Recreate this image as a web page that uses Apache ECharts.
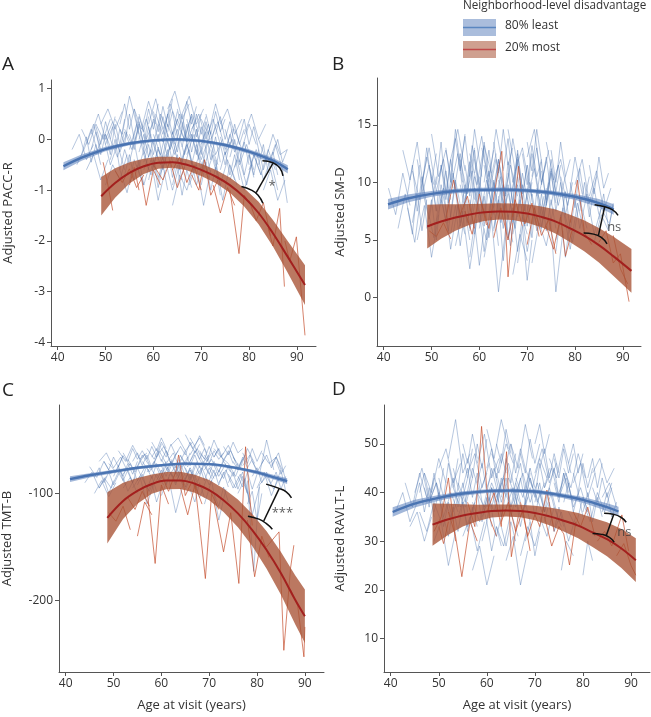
<!DOCTYPE html>
<html><head><meta charset="utf-8">
<script src="https://cdn.jsdelivr.net/npm/echarts@6/dist/echarts.min.js"></script>
<style>html,body{margin:0;padding:0;background:#fff}#c{width:651px;height:717px}</style>
</head><body><div id="c"></div>
<script>
// ---------- shared ----------
const xTicks = [40, 50, 60, 70, 80, 90];
const legendTitle = 'Neighborhood-level disadvantage';
const groupNames = ['80% least', '20% most'];
const xTitle = 'Age at visit (years)';

// ---------- Panel A : PACC-R ----------
const aTitle = 'Adjusted PACC-R';
const aYTicks = [-4, -3, -2, -1, 0, 1];
const aBlueAge = [41.2, 45, 50, 55, 60, 65, 70, 75, 80, 85, 88.1];
const aBlueFit = [-0.53, -0.36, -0.19, -0.08, -0.02, 0.0, -0.03, -0.11, -0.24, -0.42, -0.59];
const aBlueHalf = [0.08, 0.06, 0.045, 0.035, 0.03, 0.03, 0.03, 0.035, 0.045, 0.06, 0.08];
const aRedAge = [49.1, 52, 55, 58, 61, 64, 67, 70, 73, 76, 79, 82, 85, 88, 91.7];
const aRedFit = [-1.12, -0.86, -0.66, -0.53, -0.46, -0.45, -0.5, -0.6, -0.73, -0.9, -1.14, -1.45, -1.85, -2.3, -2.87];
const aRedHalf = [0.38, 0.29, 0.21, 0.15, 0.12, 0.11, 0.11, 0.12, 0.13, 0.15, 0.18, 0.22, 0.26, 0.31, 0.39];
const aBlueLines = [
[43,-0.2,44.5,0.1,46,-0.4,47.5,-0.1],[44,-0.5,45.5,-0.2,47,0.2,48.5,-0.3],[45,0.2,46.5,-0.1,48,0.3,49.5,0.0,51,0.4],
[46,-0.6,47.5,-0.3,49,-0.8,50.5,-0.4],[47,0.1,48.5,0.5,50,0.0,51.5,0.35],[48,-0.3,49.5,0.1,51,-0.5,52.5,-0.1,54,-0.6],
[49,0.3,50.5,0.6,52,0.2,53.5,0.55],[50,-0.9,51.5,-0.5,53,-0.8,54.5,-0.3],[51,0.0,52.5,-0.35,54,0.15,55.5,-0.2,57,0.25],
[52,0.4,53.5,0.1,55,0.85,56.5,0.3],[53,-0.6,54.5,-1.05,56,-0.4,57.5,-0.8],[54,0.2,55.5,-0.1,57,0.45,58.5,0.0,60,0.35],
[55,-0.2,56.5,0.3,58,-0.3,59.5,0.1],[56,0.6,57.5,0.2,59,0.75,60.5,0.3],[56.5,-0.5,58,-0.9,59.5,-0.4,61,-1.2,62.5,-0.6],
[57,0.0,58.5,0.4,60,-0.1,61.5,0.5,63,0.1],[58,-0.3,59.5,-0.7,61,-0.2,62.5,-0.5],[59,0.3,60.5,0.8,62,0.2,63.5,0.6],
[60,-0.1,61.5,-0.5,63,0.1,64.5,-0.3,66,0.2],[60.5,0.5,62,0.1,63.5,0.7,65,0.3],[61,-0.8,62.5,-0.4,64,-1.0,65.5,-0.5],
[62,0.2,63.5,-0.2,65,0.4,66.5,0.0,68,0.5],[62.5,-0.4,64,0.0,65.5,-0.6,67,-0.1],[63,0.6,64.5,0.95,66,0.4,67.5,0.7],
[63.5,-0.2,65,0.2,66.5,-0.3,68,0.1,69.5,-0.4],[64,-1.3,65.5,-0.7,67,-1.0,68.5,-0.5],[65,0.3,66.5,0.0,68,0.5,69.5,0.15],
[65.5,-0.5,67,-0.1,68.5,-0.6,70,-0.2,71.5,-0.7],[66,0.5,67.5,0.85,69,0.3,70.5,0.6],[67,-0.3,68.5,0.1,70,-0.4,71.5,0.0],
[67.5,-0.9,69,-0.5,70.5,-1.3,72,-0.6],[68,0.2,69.5,0.5,71,0.0,72.5,0.4,74,-0.1],[69,-0.2,70.5,-0.6,72,-0.1,73.5,-0.5],
[70,0.4,71.5,0.1,73,0.7,74.5,0.2],[71,-0.7,72.5,-0.3,74,-0.9,75.5,-0.4,77,-0.8],[72,0.0,73.5,0.35,75,-0.2,76.5,0.2],
[73,-0.4,74.5,-1.2,76,-0.5,77.5,-0.9],[74,0.3,75.5,0.6,77,0.1,78.5,0.4],[75,-0.3,76.5,0.0,78,-0.5,79.5,-0.1,81,-0.6],
[76,-0.8,77.5,-0.4,79,-1.0,80.5,-0.5],[77,0.2,78.5,-0.2,80,0.3,81.5,-0.1],[78,-0.4,79.5,-0.9,81,-0.3,82.5,-0.7],
[79,0.1,80.5,0.5,82,0.0,83.5,0.3],[80,-0.6,81.5,-0.2,83,-0.8,84.5,-0.4,86,-1.0],[81,-0.3,82.5,-0.7,84,-0.2,85.5,-0.6],
[82,0.0,83.5,-0.4,85,0.1,86.5,-0.3,88,-0.2],[83,-1.0,84.5,-0.6,86,-1.2,87.5,-0.8],[84,-0.5,85.5,-0.1,87,-0.6,88,-1.25],
[58,-0.6,59.5,-0.2,61,-0.75,62.5,-0.3],[64,0.1,65.5,0.5,67,-0.05,68.5,0.3],[50,-0.1,51.5,0.25,53,-0.25,54.5,0.15],
[46,-0.1,47.5,0.3,49,-0.2],[70,-0.1,71.5,0.3,73,-0.3,74.5,0.0],[60,0.1,61.5,-0.3,63,0.3,64.5,-0.1],[66,-0.7,67.5,-0.2,69,-0.9,70.5,-0.4]
];
const aBlueLines2 = [
[50,0.1,51,-0.3,52,0.3,53,-0.1,54,0.4],[51,-0.4,52,0.0,53,-0.6,54,-0.2,55,-0.5],[52,-0.2,53,0.2,54,-0.1,55,0.5,56,0.0],
[53,0.3,54,0.7,55,0.2,56,0.6,57,0.1],[54,-0.7,55,-0.3,56,-0.8,57,-0.4,58,-0.9],[55,0.1,56,-0.2,57,0.3,58,-0.1,59,0.45],
[56,-0.1,57,0.35,58,-0.2,59,0.25,60,-0.3],[57,0.5,58,0.15,59,0.6,60,0.2,61,0.7],[58,-0.45,59,-0.1,60,-0.55,61,-0.15,62,-0.6],
[59,0.0,60,0.4,61,-0.05,62,0.45,63,0.05],[60,-0.3,61,0.1,62,-0.4,63,0.0,64,-0.45],[61,0.3,62,-0.05,63,0.5,64,0.1,65,0.55],
[62,-0.6,63,-0.2,64,-0.75,65,-0.3,66,-0.8],[63,0.15,64,0.55,65,0.05,66,0.5,67,0.0],[64,-0.35,65,0.05,66,-0.45,67,-0.05,68,-0.5],
[65,0.6,66,0.2,67,0.75,68,0.3,69,0.65],[66,-0.15,67,0.3,68,-0.25,69,0.2,70,-0.3],[67,0.4,68,0.0,69,0.5,70,0.1,71,0.45],
[68,-0.5,69,-0.1,70,-0.65,71,-0.2,72,-0.7],[69,0.2,70,-0.2,71,0.35,72,-0.1,73,0.3],[70,-0.3,71,0.15,72,-0.4,73,0.05,74,-0.45],
[71,0.5,72,0.1,73,0.55,74,0.15,75,0.4],[72,-0.2,73,-0.6,74,-0.1,75,-0.5,76,-0.05],[73,0.1,74,0.45,75,0.0,76,0.35,77,-0.1],
[74,-0.6,75,-0.25,76,-0.7,77,-0.3,78,-0.8],[75,0.2,76,-0.15,77,0.3,78,-0.1,79,0.2],[76,-0.35,77,0.0,78,-0.45,79,-0.05,80,-0.5],
[78,0.05,79,0.4,80,-0.1,81,0.25,82,-0.2],[80,-0.3,81,-0.7,82,-0.2,83,-0.6,84,-0.3],[82,-0.5,83,-0.1,84,-0.65,85,-0.25,86,-0.7],
[45,-0.3,46,0.05,47,-0.45,48,-0.1,49,-0.5],[47,-0.2,48,0.15,49,-0.3,50,0.1,51,-0.15],[48,0.25,49,-0.1,50,0.35,51,0.0,52,0.45],
[55,-0.45,56,-0.05,57,-0.55,58,-0.2,59,-0.6],[60,0.55,61,0.15,62,0.65,63,0.25,64,0.8],[62,0.0,63,-0.35,64,0.15,65,-0.25,66,0.2],
[64,-0.9,65,-0.5,66,-1.1,67,-0.6,68,-0.95],[66,0.35,67,-0.05,68,0.45,69,0.05,70,0.5],[68,0.1,69,-0.3,70,0.25,71,-0.2,72,0.15],
[70,-0.9,71,-0.45,72,-1.0,73,-0.55,74,-1.1],[57,-0.25,58,0.1,59,-0.35,60,0.0,61,-0.4],[59,-0.8,60,-0.4,61,-0.95,62,-0.5,63,-1.0],
[74,0.05,75,-0.3,76,0.1,77,-0.25,78,0.05],[77,-0.55,78,-0.2,79,-0.7,80,-0.3,81,-0.75],[85,-0.3,86,0.0,87,-0.45,88,-0.2]
];
const aRedLines = [
[49.5,-0.45,50.5,-0.9,51.5,-1.4],[52,-0.62,53.5,-0.85,55,-0.58,56.5,-0.95,58,-0.7],[57.5,-0.75,58.5,-1.3,60,-0.6,61.5,-0.9],
[60,-0.5,62,-0.8,63.5,-0.42,65,-0.95,66.5,-0.55],[64,-0.6,65.5,-0.35,67,-0.85,68.5,-0.5,70,-1.0],
[68,-0.7,69.5,-1.0,70.7,-0.4,72,-1.1,73.5,-0.8],[72.5,-0.9,74,-1.45,75.5,-0.95,77,-1.3],[76,-1.0,77.9,-2.25,79,-1.1,80.5,-1.3],
[80,-1.2,81.5,-1.6,83,-1.25,84.5,-1.9],[84,-1.75,85,-2.1,86.4,-1.36,87.4,-2.9],[87.5,-2.0,88.5,-2.4,89.9,-1.92,91.7,-3.86],
[55,-0.9,56,-0.55,57,-1.0]
];
const aArcUpper = [82.8,-0.42, 85.0,-0.46, 86.4,-0.56, 87.1,-0.72];
const aArcLower = [78.4,-0.93, 80.5,-1.0, 81.9,-1.10, 82.9,-1.26];
const aConnector = [85.0,-0.47, 81.5,-1.05];
const aMark = [84.8, -0.93, '*'];

// ---------- Panel B : SM-D ----------
const bTitle = 'Adjusted SM-D';
const bYTicks = [0, 5, 10, 15];
const bBlueAge = [40.9, 45, 50, 55, 60, 65, 70, 75, 80, 85, 88.1];
const bBlueFit = [8.1, 8.6, 9.0, 9.25, 9.35, 9.37, 9.3, 9.1, 8.75, 8.2, 7.65];
const bBlueHalf = [0.45, 0.35, 0.25, 0.2, 0.18, 0.18, 0.18, 0.2, 0.25, 0.35, 0.45];
const bRedAge = [49.1, 52, 55, 58, 61, 64, 67, 70, 73, 76, 79, 82, 85, 88, 91.8];
const bRedFit = [6.17, 6.6, 6.95, 7.22, 7.4, 7.48, 7.45, 7.3, 7.0, 6.6, 6.0, 5.35, 4.55, 3.6, 2.32];
const bRedHalf = [1.9, 1.5, 1.15, 0.9, 0.75, 0.7, 0.72, 0.8, 0.9, 1.05, 1.2, 1.35, 1.5, 1.7, 1.9];
const bBlueLines = [
[41,9.5,42.5,7.2,44,10.8,45.5,8.0],[43,6.0,44.5,9.0,46,5.5,47.5,11.5],[44,12.8,45.5,10.2,47,13.5,48.5,9.0],
[45,7.8,46.5,4.8,48,9.5,49.5,6.8,51,10.5],[46,11.0,47.5,8.5,49,12.2,50.5,9.8],[47,5.0,48.5,8.0,50,3.5,51.5,7.2],
[48,10.0,49.5,13.0,51,9.2,52.5,12.0,54,8.5],[49,8.0,50.5,5.2,52,9.8,53.5,6.5],[50,14.2,51.5,10.5,53,12.8,54.5,9.5],
[51,6.5,52.5,9.5,54,4.2,55.5,8.0,57,5.5],[52,11.5,53.5,8.2,55,14.6,56.5,10.0],[53,7.0,54.5,10.8,56,6.2,57.5,9.5],
[54,9.5,55.5,12.5,57,8.0,58.5,13.2,60,9.8],[55,4.5,56.5,7.5,58,2.5,59.5,6.8],[56,12.0,57.5,9.0,59,14.6,60.5,10.5],
[57,8.5,58.5,11.0,60,6.5,61.5,10.2,63,7.2],[58,5.8,59.5,9.2,61,4.0,62.5,8.5],[59,10.8,60.5,14.0,62,9.5,63.5,12.5],
[60,7.5,61.5,5.0,63,10.0,64.5,6.5,66,9.0],[60.5,13.0,62,10.0,63.5,14.6,65,11.2],[61,3.5,62.5,7.0,64,0.5,65.5,6.0],
[62,9.0,63.5,12.0,65,8.2,66.5,11.5,68,8.8],[63,6.0,64.5,9.5,66,5.2,67.5,8.0],[64,11.8,65.5,8.8,67,13.8,68.5,10.2],
[65,8.0,66.5,4.5,68,9.8,69.5,6.2,71,10.0],[66,14.6,67.5,11.0,69,13.0,70.5,9.5],[67,5.5,68.5,8.5,70,4.0,71.5,7.5],
[68,10.5,69.5,7.5,71,12.5,72.5,9.0,74,11.8],[69,7.0,70.5,10.0,72,5.8,73.5,8.8],[70,12.2,71.5,14.6,73,10.0,74.5,12.8],
[71,3.0,72.5,6.5,74,4.5,75.5,7.8],[72,9.5,73.5,6.8,75,11.2,76.5,8.0,78,10.5],[73,6.2,74.5,9.0,76,0.5,77.5,5.8],
[74,13.5,75.5,10.2,77,12.0,78.5,9.0],[75,8.0,76.5,11.5,78,7.2,79.5,10.0],[76,5.0,77.5,7.8,79,4.2,80.5,8.2,82,5.5],
[77,10.5,78.5,8.0,80,12.2,81.5,9.0],[78,7.0,79.5,4.8,81,8.5,82.5,6.0],[80,9.8,81.5,12.0,83,8.2,84.5,10.5],
[81,6.0,82.5,9.0,84,5.5,85.5,7.8,87,6.5],[83,8.8,84.5,11.0,86,7.5,87.5,9.5],[84,4.8,85.5,7.2,87,5.8,88,8.2],
[52,8.5,53.5,5.8,55,10.2,56.5,7.0],[58,12.5,59.5,9.8,61,13.2,62.5,10.8],[63,7.8,64.5,10.5,66,6.8,67.5,11.0],
[66,9.2,67.5,6.0,69,10.8,70.5,7.5],[56,9.8,57.5,6.5,59,10.5,60.5,7.8],[70,8.5,71.5,11.2,73,7.0,74.5,10.0],
[48,8.8,49.5,11.5,51,7.5],[61,11.5,62.5,8.2,64,12.0,65.5,9.0],[67,2.0,68.5,5.5,70,3.2],[54,12.0,55.5,14.6,57,11.0]
];
const bBlueLines2 = [
[45,9.0,46,11.5,47,7.5,48,10.5,49,8.0],[47,12.0,48,9.5,49,13.0,50,10.0,51,12.5],[49,6.0,50,8.5,51,5.0,52,9.0,53,6.5],
[50,10.5,51,7.5,52,11.5,53,8.5,54,12.0],[52,8.0,53,11.0,54,7.0,55,10.0,56,6.5],[53,13.0,54,10.0,55,13.8,56,11.0,57,14.2],
[54,5.5,55,8.0,56,4.5,57,7.5,58,5.0],[55,10.0,56,12.5,57,9.0,58,11.8,59,8.5],[56,7.0,57,9.8,58,6.0,59,9.5,60,7.2],
[57,11.5,58,8.8,59,12.8,60,9.5,61,13.0],[58,8.5,59,5.5,60,9.5,61,6.2,62,10.0],[59,12.0,60,9.0,61,13.5,62,10.5,63,12.8],
[60,6.0,61,8.8,62,5.2,63,8.0,64,4.5],[61,10.0,62,12.8,63,9.2,64,12.0,65,8.8],[62,7.5,63,10.2,64,6.8,65,9.8,66,7.0],
[63,13.5,64,10.8,65,14.6,66,11.5,67,13.0],[64,8.8,65,6.0,66,9.8,67,6.5,68,10.5],[65,11.0,66,13.8,67,10.0,68,12.5,69,9.5],
[66,5.0,67,7.8,68,4.0,69,7.0,70,5.5],[67,9.5,68,12.0,69,8.5,70,11.5,71,8.8],[68,7.0,69,9.8,70,6.2,71,9.0,72,6.8],
[69,12.5,70,9.8,71,13.2,72,10.5,73,12.0],[70,8.0,71,5.2,72,9.2,73,6.0,74,9.5],[71,10.5,72,13.0,73,9.8,74,12.2,75,9.0],
[72,6.5,73,9.0,74,5.8,75,8.5,76,6.0],[73,11.0,74,8.5,75,12.0,76,9.2,77,11.5],[74,8.2,75,11.0,76,7.5,77,10.0,78,7.0],
[75,12.8,76,10.0,77,13.5,78,10.5,79,12.0],[77,6.5,78,9.2,79,5.8,80,8.5,81,6.0],[79,10.0,80,7.8,81,11.2,82,8.5,83,10.5],
[81,7.5,82,10.0,83,7.0,84,9.5,85,7.2],[83,11.5,84,9.0,85,12.2,86,9.5,87,10.8],[85,6.8,86,9.0,87,6.0,88,8.0],
[46,6.5,47,9.0,48,5.8,49,8.5],[51,9.8,52,13.5,53,9.0,54,12.0,55,9.5],[58,3.5,59,6.5,60,2.8,61,6.0],
[63,5.8,64,8.5,65,3.2,66,7.2,67,4.8],[66,10.8,67,8.2,68,12.8,69,9.0,70,11.5],[70,13.5,71,11.0,72,14.6,73,11.8],
[76,4.0,77,7.2,78,3.5,79,6.8],[60,10.5,61,7.2,62,11.0,63,8.0,64,11.5],[56,11.2,57,14.0,58,10.5,59,13.0],
[72,8.8,73,11.8,74,8.0,75,10.8,76,8.2],[64,10.2,65,7.5,66,11.8,67,8.0,68,12.2],[68,3.0,69,6.2,70,1.5,71,5.0]
];
const bRedLines = [
[49.5,5.8,51,5.3,52.5,6.5,54,5.1],[53,6.8,54.6,10.2,56,7.2,57.5,8.8,59,6.0],[57,7.5,58.5,5.5,60,9.0,61.5,6.3],
[60.5,8.1,62,6.0,63.5,10.0,64.7,12.7,66,1.8,67,6.5],[63,5.2,64.5,7.8,66,5.0,67.5,8.5,69,6.2],
[67,7.0,68.2,11.4,69.5,6.4,71,8.2,72.5,5.3],[70,4.6,71.5,7.8,73,5.4,74.5,6.8,76,3.8],[74,6.2,75.5,4.2,77,7.0,78,3.6,79.5,6.0],
[79,6.5,80.5,10.2,82,5.6,83.5,4.6],[85,4.8,86.5,5.8,88,3.0,89.5,3.8,91.3,-0.35],[88,5.4,89.5,2.5,91,1.2]
];
const bArcUpper = [84.1,8.06, 86.0,7.91, 87.8,7.63, 89.0,7.13];
const bArcLower = [81.8,5.6, 83.9,5.51, 85.5,5.22, 86.7,4.67];
const bConnector = [86.2,7.88, 84.9,5.4];
const bMark = [88.2, 6.12, 'ns'];

// ---------- Panel C : TMT-B ----------
const cTitle = 'Adjusted TMT-B';
const cYTicks = [-200, -100];
const cBlueAge = [40.9, 45, 50, 55, 60, 65, 70, 75, 80, 84, 86.3];
const cBlueFit = [-86.6, -83, -79.5, -76, -73.6, -72.1, -72.6, -75.6, -80.3, -85.5, -88.5];
const cBlueHalf = [2.6, 2.0, 1.6, 1.3, 1.2, 1.2, 1.2, 1.3, 1.7, 2.2, 2.6];
const cRedAge = [48.7, 52, 55, 58, 61, 64, 67, 70, 73, 76, 79, 82, 85, 88, 90];
const cRedFit = [-122.8, -107, -97.6, -91.2, -88, -87.8, -90.9, -97, -106.3, -118.7, -134.3, -153, -174.8, -199.8, -215];
const cRedHalf = [24, 17, 12, 9, 8, 8, 8.5, 9.5, 11, 13, 15, 17.5, 20, 23, 25];
const cBlueLines = [
[44,-90,45.5,-80,47,-95,48.5,-84],[45,-75,46.5,-85,48,-70,49.5,-82],[46,-100,47.5,-88,49,-103,50.5,-90],
[47,-70,48.5,-62,50,-76,51.5,-66,53,-80],[48,-85,49.5,-95,51,-80,52.5,-92],[49,-72,50.5,-80,52,-65,53.5,-74],
[50,-92,51.5,-78,53,-98,54.5,-85],[51,-60,52.5,-70,54,-55,55.5,-68,57,-62],[52,-82,53.5,-72,55,-88,56.5,-76],
[53,-68,54.5,-80,56,-64,57.5,-74],[54,-95,55.5,-84,57,-110,58.5,-90],[55,-75,56.5,-63,58,-78,59.5,-60,61,-72],
[56,-86,57.5,-98,59,-82,60.5,-92],[57,-58,58.5,-68,60,-52,61.5,-64],[58,-78,59.5,-88,61,-74,62.5,-85,64,-70],
[59,-66,60.5,-56,62,-72,63.5,-60],[60,-102,61.5,-85,63,-118,64.5,-92],[61,-72,62.5,-62,64,-78,65.5,-66],
[61.5,-84,63,-74,64.5,-90,66,-78,67.5,-95],[62,-55,63.5,-48,65,-60,66.5,-52],[63,-80,64.5,-92,66,-76,67.5,-88],
[64,-65,65.5,-75,67,-60,68.5,-72,70,-64],[65,-96,66.5,-82,68,-104,69.5,-86],[66,-70,67.5,-58,69,-74,70.5,-62],
[67,-85,68.5,-76,70,-92,71.5,-80],[68,-62,69.5,-70,71,-50,72.5,-66,74,-72],[69,-110,70.5,-88,72,-125,73.5,-96],
[70,-74,71.5,-84,73,-70,74.5,-80],[71,-58,72.5,-66,74,-55,75.5,-70],[72,-90,73.5,-78,75,-95,76.5,-82,78,-100],
[73,-68,74.5,-60,76,-76,77.5,-64],[74,-82,75.5,-95,77,-80,78.5,-110],[75,-66,76.5,-76,78,-58,79.5,-72],
[76,-100,77.5,-86,79,-120,80.5,-94],[77,-74,78.5,-64,80,-80,81.5,-68],[78,-88,79.3,-173,80.5,-92,82,-84],
[79,-70,80.5,-82,82,-50,83.5,-78],[80,-95,81.5,-80,83,-102,84.5,-86],[81,-62,82.5,-72,84,-66,85.5,-80],
[82,-84,83.5,-96,85,-78,86,-98],[83,-74,84.5,-62,86,-88],[57,-80,58.5,-70,60,-86,61.5,-75],
[63,-85,64.5,-72,66,-88,67.5,-70],[52,-95,53.5,-85,55,-100],[69,-78,70.5,-68,72,-84,73.5,-72],
[60,-68,61.5,-80,63,-64],[66,-78,67.5,-90,69,-72,70.5,-86],[74,-72,75.5,-84,77,-68],[56,-70,57.5,-80,59,-66],
[65,-45,66.5,-58,68,-48,69.5,-62]
];
const cBlueLines2 = [
[46,-85,47,-76,48,-90,49,-80,50,-92],[48,-70,49,-78,50,-66,51,-75,52,-64],[50,-84,51,-74,52,-88,53,-78,54,-90],
[52,-62,53,-70,54,-58,55,-68,56,-60],[53,-80,54,-90,55,-76,56,-86,57,-74],[54,-70,55,-62,56,-74,57,-64,58,-76],
[55,-92,56,-82,57,-96,58,-84,59,-98],[56,-60,57,-68,58,-56,59,-66,60,-54],[57,-76,58,-86,59,-72,60,-82,61,-70],
[58,-66,59,-58,60,-70,61,-60,62,-72],[59,-88,60,-78,61,-92,62,-80,63,-90],[60,-58,61,-66,62,-54,63,-64,64,-56],
[61,-78,62,-70,63,-82,64,-72,65,-84],[62,-68,63,-76,64,-64,65,-74,66,-62],[63,-90,64,-80,65,-94,66,-82,67,-96],
[64,-56,65,-64,66,-52,67,-62,68,-54],[65,-76,66,-86,67,-72,68,-82,69,-70],[66,-64,67,-56,68,-68,69,-58,70,-70],
[67,-84,68,-74,69,-88,70,-76,71,-86],[68,-60,69,-68,70,-56,71,-66,72,-58],[69,-74,70,-82,71,-70,72,-80,73,-68],
[70,-88,71,-78,72,-92,73,-80,74,-94],[71,-66,72,-58,73,-70,74,-60,75,-72],[72,-78,73,-86,74,-74,75,-84,76,-72],
[73,-56,74,-64,75,-52,76,-62,77,-58],[74,-90,75,-80,76,-96,77,-84,78,-100],[75,-70,76,-78,77,-66,78,-76,79,-68],
[77,-62,78,-72,79,-58,80,-70,81,-60],[79,-84,80,-76,81,-90,82,-80,83,-92],[81,-72,82,-64,83,-76,84,-66,85,-78],
[83,-90,84,-80,85,-96,86,-84],[47,-95,48,-86,49,-100,50,-88],[51,-76,52,-84,53,-72,54,-82,55,-70],
[57,-100,58,-90,59,-108,60,-94],[62,-82,63,-92,64,-78,65,-88,66,-76],[64,-70,65,-60,66,-74,67,-64,68,-76],
[66,-96,67,-108,68,-90,69,-104],[69,-64,70,-72,71,-60,72,-68,73,-62],[71,-100,72,-112,73,-94,74,-108],
[76,-84,77,-94,78,-80,79,-96,80,-82],[78,-110,79,-98,80,-125,81,-100],[60,-74,61,-84,62,-70,63,-80,64,-68],
[58,-52,59,-60,60,-48,61,-58],[66,-48,67,-56,68,-46,69,-55],[84,-70,85,-82,86,-74]
];
const cRedLines = [
[49,-118,50.5,-126,52,-112,53.5,-134],[53,-104,54.5,-115,56,-98,57.5,-112],[57,-96,58.7,-165.6,60,-92,61.5,-110],
[60,-82,61.5,-98,63,-80,63.6,-64,65,-102,66.5,-88],[64,-95,65.5,-120,67,-92,68.5,-110],
[67,-90,68,-130,69.2,-179.7,70.5,-100,72,-115],[71,-108,73,-154.7,74.5,-118,76.2,-184.3,77.6,-56.3,79,-130],
[78,-125,79.5,-178,81,-140,82.5,-160],[82,-150,84.6,-136,85.6,-246.9,87,-170,87.7,-148.5],
[87,-190,88.5,-205,89.8,-253,90,-225],[55,-140,56.5,-108,58,-120]
];
const cArcUpper = [81.9,-91.3, 84.6,-95.3, 86.1,-98.5, 87.2,-104.1];
const cArcLower = [78.1,-121.3, 80.4,-124.1, 81.9,-128.1, 83.2,-133.5];
const cConnector = [84.6,-95.8, 81.4,-125.8];
const cMark = [85.3, -118.5, '***'];

// ---------- Panel D : RAVLT-L ----------
const dTitle = 'Adjusted RAVLT-L';
const dYTicks = [10, 20, 30, 40, 50];
const dBlueAge = [40.4, 45, 50, 55, 60, 65, 70, 75, 80, 85, 87.4];
const dBlueFit = [36.0, 37.7, 38.9, 39.8, 40.3, 40.4, 40.2, 39.5, 38.5, 37.0, 36.1];
const dBlueHalf = [1.0, 0.8, 0.6, 0.45, 0.4, 0.4, 0.4, 0.45, 0.6, 0.8, 1.0];
const dRedAge = [48.7, 52, 55, 58, 61, 64, 67, 70, 73, 76, 79, 82, 85, 88, 91];
const dRedFit = [33.4, 34.5, 35.3, 35.8, 36.2, 36.3, 36.2, 35.8, 35.1, 34.2, 33.2, 31.8, 30.4, 28.5, 26.1];
const dRedHalf = [4.35, 3.2, 2.3, 1.7, 1.35, 1.25, 1.3, 1.5, 1.8, 2.2, 2.6, 3.0, 3.5, 4.0, 4.5];
const dBlueLines = [
[41,36,42.5,40,44,34,45.5,38],[43,42,44.5,37,46,44,47.5,39],[44,33,45.5,36,47,30,48.5,35],
[45,40,46.5,45,48,38,49.5,42,51,37],[46,36,47.5,32,49,38,50.5,34],[47,44,48.5,40,50,47,51.5,42],
[48,38,49.5,42,51,35,52.5,40,54,36],[49,30,50.5,34,52,25,53.5,32],[50,45,51.5,49,53,42,54.5,46],
[51,39,52.5,35,54,41,55.5,37,57,43],[52,47,53.5,55,55,44,56.5,48],[53,36,54.5,40,56,33,57.5,38],
[54,42,55.5,38,57,45,58.5,40,60,44],[55,31,56.5,35,58,28,59.5,34],[56,44,57.5,48,59,41,60.5,46],
[57,38,58.5,34,60,40,61.5,36,63,42],[58,46,59.5,52,61,43,62.5,47],[59,35,60.5,39,62,31,63.5,37],
[60,41,61.5,45,63,38,64.5,43,66,39],[61,48,62.5,44,64,50,65.5,46],[62,33,63.5,29,65,36,66.5,31],
[63,42,64.5,46,66,40,67.5,44,69,38],[64,37,65.5,41,67,35,68.5,39],[65,50,66.5,45,68,54,69.5,47],
[66,40,67.5,36,69,43,70.5,38,72,42],[67,27,68.5,33,70,29,71.5,35],[68,45,69.5,41,71,47,72.5,43],
[69,38,70.5,42,72,36,73.5,40,75,34],[70,44,71.5,49,73,42,74.5,46],[71,35,72.5,31,74,37,75.5,33],
[72,41,73.5,45,75,39,76.5,43,78,38],[73,47,74.5,43,76,50,77.5,44],[74,32,75.5,36,77,30,78.5,35],
[75,40,76.5,44,78,37,79.5,41,81,36],[76,45,77.5,41,79,48,80.5,43],[77,36,78.5,33,80,39,81.5,35],
[78,42,79.5,46,81,39,82.5,44],[80,38,81.5,34,83,40,84.5,36,86,41],[82,44,83.5,47,85,42,86.5,45],
[84,39,85.5,42,87,37],[57,24,58.5,29,60,21,61.5,27],[64,26,65.5,31,67,21,68.5,28],[75.5,24,76.5,30,78,27],
[80,23,81,30,82,26],[62,39,63.5,43,65,37,66.5,41],[58,40,59.5,37,61,42,62.5,38],[66,43,67.5,39,69,45],
[53,41,54.5,37,56,43],[70,40,71.5,36,73,41],[60,53,61.5,47,63,55,64.5,49]
];
const dBlueLines2 = [
[45,38,46,42,47,36,48,41,49,35],[47,41,48,37,49,44,50,39,51,45],[49,36,50,40,51,33,52,38,53,34],
[50,43,51,39,52,46,53,41,54,47],[52,39,53,43,54,37,55,42,56,36],[53,45,54,41,55,48,56,43,57,49],
[54,35,55,38,56,32,57,37,58,33],[55,41,56,45,57,39,58,44,59,38],[56,47,57,43,58,50,59,45,60,51],
[57,36,58,40,59,34,60,39,61,33],[58,42,59,46,60,40,61,45,62,41],[59,38,60,34,61,41,62,36,63,42],
[60,45,61,49,62,43,63,48,64,44],[61,37,62,41,63,35,64,40,65,36],[62,44,63,40,64,47,65,42,66,48],
[63,39,64,43,65,37,66,42,67,38],[64,46,65,50,66,44,67,49,68,45],[65,35,66,39,67,33,68,38,69,34],
[66,42,67,46,68,40,69,45,70,41],[67,48,68,44,69,51,70,46,71,50],[68,37,69,41,70,35,71,40,72,36],
[69,43,70,39,71,46,72,41,73,45],[70,38,71,42,72,36,73,41,74,37],[71,45,72,49,73,43,74,48,75,44],
[72,34,73,38,74,32,75,37,76,33],[73,41,74,45,75,39,76,44,77,40],[74,47,75,43,76,49,77,44,78,48],
[76,38,77,42,78,36,79,40,80,35],[78,44,79,40,80,46,81,41,82,45],[80,36,81,40,82,34,83,39,84,35],
[82,41,83,38,84,43,85,39,86,42],[84,36,85,40,86,35,87,38],[46,40,47,44,48,39,49,43],
[51,35,52,31,53,37,54,32,55,38],[55,50,56,46,57,52,58,47],[59,30,60,34,61,28,62,33,63,29],
[62,50,63,46,64,53,65,48],[65,41,66,37,67,43,68,38,69,44],[68,30,69,34,70,27,71,32],
[70,50,71,54,72,48,73,52],[74,42,75,38,76,44,77,39],[77,46,78,50,79,44,80,48],
[81,43,82,47,83,41,84,46],[63,33,64,29,65,34,66,30],[60,37,61,41,62,38,63,43,64,39]
];
const dRedLines = [
[49,32,50.5,35,52,43,53.5,30],[52,36,53.5,31,54.8,22.7,56.5,34,58,30],[56,38,57.5,33,58.9,53.6,60.5,35,62,31],
[60,36,61.5,40,63,33,64.1,48.4,65.1,26.8,66.5,35],[63,34,64.5,38,66,32,67.5,36.5,69,28],
[67,38,68.5,31,70,35.5,71,33,72.5,40.5,74,32],[72,35,73.5,29,75,33,76,31.5,77.2,25.1,78.5,34],
[78,36,79.5,33,81,37,82.5,31],[83,30,84.5,32,86,29,88.1,35.4,89.5,28],[87,27,88.5,29.5,90,25,91,23],[50,33,51,29.5,52,34]
];
const dArcUpper = [84.4,35.75, 86.3,35.54, 87.9,34.92, 89.0,33.9];
const dArcLower = [82.0,31.6, 83.9,31.4, 85.5,30.8, 86.5,29.8];
const dConnector = [86.4,35.5, 84.8,31.0];
const dMark = [88.6, 31.8, 'ns'];

// ---------- layout & styles ----------
const FONT = '"Open Sans", "DejaVu Sans", sans-serif';
const BLUE_SPAG = 'rgba(76,114,176,0.5)';
const RED_SPAG = 'rgba(196,78,44,0.88)';
const BLUE_BAND = 'rgba(86,124,186,0.55)';
const BLUE_LINE = '#4a74b2';
const RED_BAND = 'rgba(168,82,52,0.78)';
const RED_LINE = '#a3201e';

const panels = [
  {letter:'A', title:aTitle, yTicks:aYTicks, ymin:-4.07, ymax:1.17, grid:{left:51, top:80, width:265, height:266}, xmax:94, nameGap:36,
   blueAge:aBlueAge, blueFit:aBlueFit, blueHalf:aBlueHalf, redAge:aRedAge, redFit:aRedFit, redHalf:aRedHalf,
   blueLines:aBlueLines.concat(aBlueLines2), redLines:aRedLines, arcU:aArcUpper, arcL:aArcLower, conn:aConnector, mark:aMark, lx:2, ly:67, xName:false},
  {letter:'B', title:bTitle, yTicks:bYTicks, ymin:-4.2, ymax:19.06, grid:{left:377, top:78, width:264, height:268}, xmax:93.8, nameGap:30,
   blueAge:bBlueAge, blueFit:bBlueFit, blueHalf:bBlueHalf, redAge:bRedAge, redFit:bRedFit, redHalf:bRedHalf,
   blueLines:bBlueLines.concat(bBlueLines2), redLines:bRedLines, arcU:bArcUpper, arcL:bArcLower, conn:bConnector, mark:bMark, lx:332, ly:67, xName:false},
  {letter:'C', title:cTitle, yTicks:cYTicks, ymin:-267.2, ymax:-17.2, grid:{left:59, top:405, width:265, height:267}, xmax:94, nameGap:45,
   blueAge:cBlueAge, blueFit:cBlueFit, blueHalf:cBlueHalf, redAge:cRedAge, redFit:cRedFit, redHalf:cRedHalf,
   blueLines:cBlueLines.concat(cBlueLines2), redLines:cRedLines, arcU:cArcUpper, arcL:cArcLower, conn:cConnector, mark:cMark, lx:2, ly:393, xName:true},
  {letter:'D', title:dTitle, yTicks:dYTicks, ymin:3.1, ymax:58.0, grid:{left:384, top:405, width:266, height:267}, xmax:93.95, nameGap:37,
   blueAge:dBlueAge, blueFit:dBlueFit, blueHalf:dBlueHalf, redAge:dRedAge, redFit:dRedFit, redHalf:dRedHalf,
   blueLines:dBlueLines.concat(dBlueLines2), redLines:dRedLines, arcU:dArcUpper, arcL:dArcLower, conn:dConnector, mark:dMark, lx:332, ly:392, xName:true}
];

function pairs(flat){ const o=[]; for(let i=0;i<flat.length;i+=2) o.push([flat[i], flat[i+1]]); return o; }

function bandSeries(gi, ages, fit, half, color, z){
  return {
    type:'custom', xAxisIndex:gi, yAxisIndex:gi, z:z, silent:true, clip:false,
    data: ages.map((a,i)=>[a, fit[i]-half[i], fit[i]+half[i]]),
    encode:{x:0, y:[1,2]},
    renderItem:function(params, api){
      if (params.dataIndex !== 0) return null;
      const lo=[], hi=[];
      for (let i=0;i<ages.length;i++){
        lo.push(api.coord([ages[i], fit[i]-half[i]]));
        hi.push(api.coord([ages[i], fit[i]+half[i]]));
      }
      return {type:'polygon', shape:{points: lo.concat(hi.reverse())}, style:{fill:color, stroke:null}};
    }
  };
}

const grids=[], xAxes=[], yAxes=[], series=[], graphics=[];
const axisLineStyle = {color:'#555', width:1};
panels.forEach((p, gi)=>{
  grids.push(Object.assign({}, p.grid));
  xAxes.push({
    type:'value', gridIndex:gi, min:38.6, max:p.xmax,
    axisLine:{show:true, onZero:false, lineStyle:axisLineStyle},
    axisTick:{show:true, customValues:xTicks, length:4, lineStyle:axisLineStyle},
    axisLabel:{customValues:xTicks, color:'#333', fontSize:12, fontFamily:FONT, margin:6},
    splitLine:{show:false},
    name: p.xName ? xTitle : '', nameLocation:'middle', nameGap:27,
    nameTextStyle:{color:'#333', fontSize:13, fontFamily:FONT}
  });
  yAxes.push({
    type:'value', gridIndex:gi, min:p.ymin, max:p.ymax,
    axisLine:{show:true, onZero:false, lineStyle:axisLineStyle},
    axisTick:{show:true, customValues:p.yTicks, length:4, lineStyle:axisLineStyle},
    axisLabel:{customValues:p.yTicks, color:'#333', fontSize:12, fontFamily:FONT, margin:6},
    splitLine:{show:false},
    name:p.title, nameLocation:'middle', nameGap:p.nameGap, nameRotate:90,
    nameTextStyle:{color:'#333', fontSize:13, fontFamily:FONT}
  });
  p.blueLines.forEach(l=>series.push({type:'line', xAxisIndex:gi, yAxisIndex:gi, data:pairs(l), symbol:'none', silent:true, z:1,
    lineStyle:{color:BLUE_SPAG, width:0.8}}));
  p.redLines.forEach(l=>series.push({type:'line', xAxisIndex:gi, yAxisIndex:gi, data:pairs(l), symbol:'none', silent:true, z:2,
    lineStyle:{color:RED_SPAG, width:0.8}}));
  series.push(bandSeries(gi, p.blueAge, p.blueFit, p.blueHalf, BLUE_BAND, 3));
  series.push({type:'line', xAxisIndex:gi, yAxisIndex:gi, data:p.blueAge.map((a,i)=>[a,p.blueFit[i]]), symbol:'none', smooth:0.4, silent:true, z:4,
    lineStyle:{color:BLUE_LINE, width:2.4}});
  series.push(bandSeries(gi, p.redAge, p.redFit, p.redHalf, RED_BAND, 5));
  series.push({type:'line', xAxisIndex:gi, yAxisIndex:gi, data:p.redAge.map((a,i)=>[a,p.redFit[i]]), symbol:'none', smooth:0.4, silent:true, z:6,
    lineStyle:{color:RED_LINE, width:2}});
  [p.arcU, p.arcL].forEach(arc=>series.push({type:'line', xAxisIndex:gi, yAxisIndex:gi, data:pairs(arc), symbol:'none', smooth:0.5, silent:true, z:7,
    lineStyle:{color:'#111', width:1.5}}));
  series.push({type:'line', xAxisIndex:gi, yAxisIndex:gi, data:pairs(p.conn), symbol:'none', silent:true, z:7, lineStyle:{color:'#111', width:1.5}});
  series.push({type:'scatter', xAxisIndex:gi, yAxisIndex:gi, data:[[p.mark[0], p.mark[1]]], symbolSize:0, silent:true, z:8,
    label:{show:true, position:'inside', formatter:p.mark[2], color:'#333', fontSize:13, fontFamily:FONT}});
  graphics.push({type:'text', left:p.lx, top:p.ly-12, style:{text:p.letter, fontSize:19, fontFamily:FONT, fill:'#222'}});
});

// legend (drawn as graphics)
graphics.push({type:'text', left:463, top:0, style:{text:legendTitle, fontSize:11.7, fontFamily:FONT, fill:'#333'}});
graphics.push({type:'rect', shape:{x:463, y:19, width:33, height:17}, style:{fill:'rgba(86,124,186,0.5)'}});
graphics.push({type:'line', shape:{x1:463, y1:27.5, x2:496, y2:27.5}, style:{stroke:'#5a86c0', lineWidth:1.5}});
graphics.push({type:'rect', shape:{x:463, y:41, width:33, height:17}, style:{fill:'rgba(168,82,52,0.55)'}});
graphics.push({type:'line', shape:{x1:463, y1:49.5, x2:496, y2:49.5}, style:{stroke:'#c04848', lineWidth:1.5}});
graphics.push({type:'text', left:505, top:20, style:{text:groupNames[0], fontSize:12, fontFamily:FONT, fill:'#333'}});
graphics.push({type:'text', left:505, top:42, style:{text:groupNames[1], fontSize:12, fontFamily:FONT, fill:'#333'}});

const chart = echarts.init(document.getElementById('c'), null, {renderer:'canvas'});
chart.setOption({
  animation:false, backgroundColor:'#fff',
  grid:grids, xAxis:xAxes, yAxis:yAxes, series:series, graphic:graphics
});
</script></body></html>
